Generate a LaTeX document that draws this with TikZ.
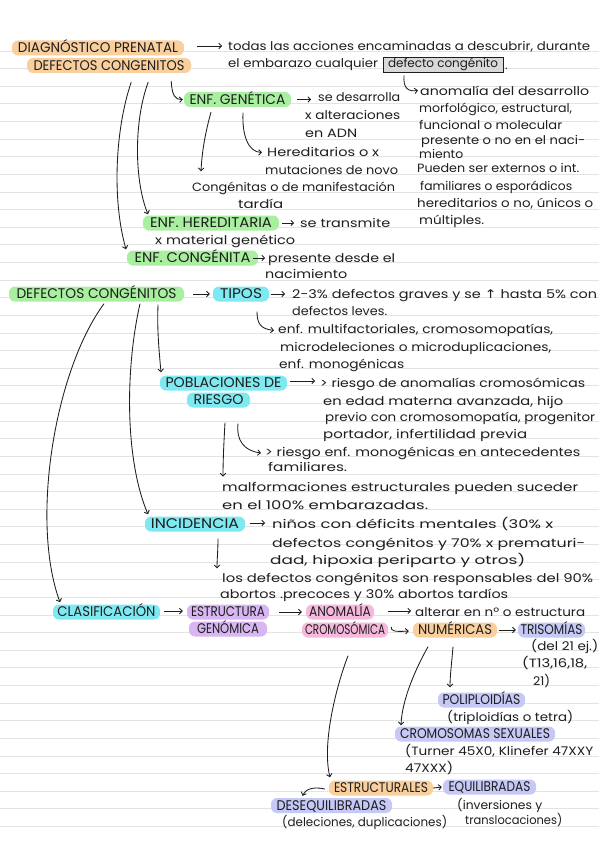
\documentclass[tikz,border=0pt]{standalone}
\usepackage{fontspec}
\usepackage{graphicx}
\usetikzlibrary{arrows.meta}
\newfontfamily\hand{Poppins}
\newfontfamily\symf{DejaVu Sans}
\definecolor{ink}{HTML}{1E1E1E}
\definecolor{rulec}{HTML}{E3E3E3}
\definecolor{orng}{HTML}{F9CF9E}
\definecolor{grn}{HTML}{A9EFA0}
\definecolor{cyn}{HTML}{7FE9F2}
\definecolor{purp}{HTML}{D8B6F2}
\definecolor{pnk}{HTML}{F6B8DC}
\definecolor{lav}{HTML}{C6C8F6}
\definecolor{boxg}{HTML}{D9D9D9}
\newcommand\fw[2]{\resizebox{#1pt}{\height}{#2}}
\newcommand\lowf{\hand\fontsize{12}{14}\selectfont}
\newcommand\capf{\hand\fontsize{14}{15}\selectfont}
\tikzset{
 rule/.style={draw=rulec, line width=0.9pt},
 tx/.style={anchor=base west, inner sep=0pt, text=ink, font=\lowf},
 hl/.style={rounded corners=6pt, inner sep=0pt, text=ink, font=\capf, minimum height=15pt, text height=9.8pt, text depth=0pt},
 ar/.style={draw=ink, line width=0.85pt, -{Straight Barb[length=2.8pt,width=5.5pt]}},
 cbox/.style={draw=ink, fill=boxg, line width=0.9pt, inner sep=0pt, minimum width=120pt, minimum height=15pt, text height=8.5pt, text depth=2.5pt, font=\lowf, text=ink},
}
\begin{document}
\begin{tikzpicture}[x=1pt,y=-1pt]
\useasboundingbox (0,0) rectangle (599,848);
\fill[white] (0,0) rectangle (599,848);
\foreach \k in {0,...,44} {\draw[rule] (0,{51+17.625*\k}) -- (599,{51+17.625*\k});}

% ---------- top block ----------
\node[hl, fill=orng, minimum width=172pt] (dp) at (98,48) {\fw{160}{DIAGNÓSTICO PRENATAL}};
\node[hl, fill=orng, minimum width=164pt] (dc) at (109,65.5) {\fw{151}{DEFECTOS CONGENITOS}};
\node[tx] (t1) at (228,50.5) {\fw{362}{todas las acciones encaminadas a descubrir, durante}};
\node[tx] (t2) at (228,68) {\fw{150}{el embarazo cualquier}};
\node[cbox] (box) at (443,64.5) {\fw{110}{defecto congénito}};
\node[tx] (t3) at (505,70) {.};

\node[tx] (r1) at (420,96) {\fw{169}{anomalía del desarrollo}};
\node[tx] (r2) at (419,112.5) {\fw{153}{morfológico, estructural,}};
\node[tx] (r3) at (419,129) {\fw{143}{funcional o molecular}};
\node[tx] (r4) at (421,145) {\fw{164}{presente o no en el naci-}};
\node[tx] (r5) at (419,158) {\fw{44}{miento}};
\node[tx] (r6) at (417,172.5) {\fw{162}{Pueden ser externos o int.}};
\node[tx] (r7) at (420,190) {\fw{152}{familiares o esporádicos}};
\node[tx] (r8) at (417,207) {\fw{176}{hereditarios o no, únicos o}};
\node[tx] (r9) at (419,224) {\fw{65}{múltiples.}};

\node[hl, fill=grn, minimum width=107pt] (eg) at (237.5,99.5) {\fw{96}{ENF. GENÉTICA}};
\node[tx] (g1) at (318,102) {\fw{82}{se desarrolla}};
\node[tx] (g2) at (305,119.5) {\fw{95}{x alteraciones}};
\node[tx] (g3) at (305,137) {\fw{52}{en ADN}};
\node[tx] (g4) at (267,157) {\fw{112}{Hereditarios o x}};
\node[tx] (g5) at (265,174) {\fw{133}{mutaciones de novo}};
\node[tx] (g6) at (192,191) {\fw{203}{Congénitas o de manifestación}};
\node[tx] (g7) at (238,208) {\fw{45}{tardía}};

\node[hl, fill=grn, minimum width=136pt] (eh) at (211,223) {\fw{122}{ENF. HEREDITARIA}};
\node[tx] (h1) at (300,227) {\fw{90}{se transmite}};
\node[tx] (h2) at (155,244) {\fw{140}{x material genético}};
\node[hl, fill=grn, minimum width=131pt] (ec) at (192.5,258) {\fw{116}{ENF. CONGÉNITA}};
\node[tx] (c1) at (268,262) {\fw{127}{presente desde el}};
\node[tx] (c2) at (265,278) {\fw{82}{nacimiento}};

% ---------- defectos congenitos ----------
\node[hl, fill=grn, minimum width=175pt] (dg) at (96.5,294) {\fw{160}{DEFECTOS CONGÉNITOS}};
\node[hl, fill=cyn, minimum width=56pt] (tp) at (241,294) {\fw{42}{TIPOS}};
\node[tx] (T1) at (292,298) {\fw{305}{2-3\% defectos graves y se {\symf ↑} hasta 5\% con}};
\node[tx] (T2) at (292,315) {\fw{95}{defectos leves.}};
\node[tx] (T3) at (278,333.5) {\fw{275}{enf. multifactoriales, cromosomopatías,}};
\node[tx] (T4) at (280,351) {\fw{271}{microdeleciones o microduplicaciones,}};
\node[tx] (T5) at (279,368) {\fw{125}{enf. monogénicas}};

\node[hl, fill=cyn, minimum width=127pt] (pb) at (223.5,383) {\fw{116}{POBLACIONES DE}};
\node[hl, fill=cyn, minimum width=63pt] (rs) at (218.5,400) {\fw{50}{RIESGO}};
\node[tx] (P1) at (320,387) {\fw{265}{> riesgo de anomalías cromosómicas}};
\node[tx] (P2) at (323,405) {\fw{240}{en edad materna avanzada, hijo}};
\node[tx] (P3) at (325,421) {\fw{270}{previo con cromosomopatía, progenitor}};
\node[tx] (P4) at (323,438) {\fw{204}{portador, infertilidad previa}};
\node[tx] (P5) at (265,456) {\fw{315}{> riesgo enf. monogénicas en antecedentes}};
\node[tx] (P6) at (268,471) {\fw{79}{familiares.}};
\node[tx] (P7) at (222,491) {\fw{356}{malformaciones estructurales pueden suceder}};
\node[tx] (P8) at (222,509) {\fw{206}{en el 100\% embarazadas.}};

\node[hl, fill=cyn, minimum width=100pt] (in) at (195,524) {\fw{88}{INCIDENCIA}};
\node[tx] (I1) at (272,528) {\fw{281}{niños con déficits mentales (30\% x}};
\node[tx] (I2) at (272,547) {\fw{313}{defectos congénitos y 70\% x prematuri-}};
\node[tx] (I3) at (270,564) {\fw{255}{dad, hipoxia periparto y otros)}};
\node[tx] (I4) at (222,582) {\fw{371}{los defectos congénitos son responsables del 90\%}};
\node[tx] (I5) at (220,598) {\fw{288}{abortos .precoces y 30\% abortos tardíos}};

% ---------- clasificacion ----------
\node[hl, fill=cyn, minimum width=107pt] (cl) at (106.5,612) {\fw{98}{CLASIFICACIÓN}};
\node[hl, fill=purp, minimum width=82pt] (es) at (228,612) {\fw{74}{ESTRUCTURA}};
\node[hl, fill=purp, minimum width=78pt] (ge) at (228,629) {\fw{62}{GENÓMICA}};
\node[hl, fill=pnk, minimum width=68pt] (an) at (340,612) {\fw{62}{ANOMALÍA}};
\node[hl, fill=pnk, minimum width=86pt] (cr) at (345,630) {\fw{80}{CROMOSÓMICA}};
\node[hl, fill=orng, minimum width=84pt] (nu) at (455,630) {\fw{74}{NUMÉRICAS}};
\node[hl, fill=lav, minimum width=67pt] (tr) at (551.5,630) {\fw{62}{TRISOMÍAS}};
\node[tx] (C1) at (415,616) {\fw{170}{alterar en nº o estructura}};
\node[tx] (C2) at (531,650) {\fw{67}{(del 21 ej.)}};
\node[tx] (C3) at (522,667) {\fw{65}{(T13,16,18,}};
\node[tx] (C4) at (533,685) {\fw{17}{21)}};
\node[hl, fill=lav, minimum width=87pt] (po) at (481.5,700) {\fw{78}{POLIPLOIDÍAS}};
\node[tx] (C5) at (447,721) {\fw{126}{(triploidías o tetra)}};
\node[hl, fill=lav, minimum width=160pt] (cs) at (475,734) {\fw{150}{CROMOSOMAS SEXUALES}};
\node[tx] (C6) at (405,755) {\fw{188}{(Turner 45X0, Klinefer 47XXY}};
\node[tx] (C7) at (405,772) {\fw{48}{47XXX)}};
\node[hl, fill=orng, minimum width=104pt] (et) at (381,788) {\fw{94}{ESTRUCTURALES}};
\node[hl, fill=lav, minimum width=93pt] (eq) at (489.5,787) {\fw{82}{EQUILIBRADAS}};
\node[hl, fill=lav, minimum width=121pt] (de) at (331.5,805.5) {\fw{110}{DESEQUILIBRADAS}};
\node[tx] (C9) at (457,809) {\fw{85}{(inversiones y}};
\node[tx] (C8) at (282,826) {\fw{165}{(deleciones, duplicaciones)}};
\node[tx] (C10) at (465,824) {\fw{97}{translocaciones)}};

% ---------- straight arrows ----------
\draw[ar] ([xshift=13pt,yshift=2pt]dp.east) -- ++(25,0);
\draw[ar] ([xshift=6pt]eg.east) -- ++(14,0);
\draw[ar] ([xshift=3pt]eh.east) -- ++(12,0);
\draw[ar] ([xshift=-5pt]ec.east) -- ++(12,0);
\draw[ar] ([xshift=9pt]dg.east) -- ([xshift=-3pt]tp.west);
\draw[ar] ([xshift=2pt]tp.east) -- ++(14,0);
\draw[ar] ([xshift=3pt,yshift=2pt]pb.east) -- ++(25,0);
\draw[ar] ([xshift=5pt,yshift=1pt]in.east) -- ++(15,0);
\draw[ar] ([xshift=4pt,yshift=1pt]cl.east) -- ([xshift=-4pt,yshift=1pt]es.west);
\draw[ar] ([xshift=10pt]es.east) -- ([xshift=-4pt]an.west);
\draw[ar] ([xshift=14pt,yshift=1pt]an.east) -- ++(23,0);
\draw[ar] ([xshift=2pt]nu.east) -- ([xshift=-2pt]tr.west);
\draw[ar] (et.east) -- ([xshift=-1pt]eq.west);

% ---------- curved arrows ----------
\draw[ar] ([xshift=-39pt,yshift=-3pt]box.south) .. controls (403,88) and (408,92) .. ([xshift=-2pt,yshift=1pt]r1.west);
\draw[ar] ([xshift=-20pt,yshift=-8pt]dc.south east) .. controls (172,95) and (175,100) .. ([xshift=-1pt]eg.west);
\draw[ar] ([xshift=-43pt,yshift=-9pt]dc.south east) .. controls (134,120) and (134,180) .. ([xshift=-63pt,yshift=1pt]eh.north);
\draw[ar] ([xshift=-60pt,yshift=-9pt]dc.south east) .. controls (115,130) and (112,200) .. ([xshift=-66.5pt,yshift=1pt]ec.north);
\draw[ar] ([xshift=-26.5pt,yshift=-5pt]eg.south) .. controls (206,130) and (202,150) .. ([xshift=9pt,yshift=10pt]g6.north west);
\draw[ar] ([xshift=5.5pt,yshift=-5.5pt]eg.south) .. controls (242,135) and (248,152) .. ([xshift=-5pt]g4.west);

\draw[ar] ([xshift=16pt,yshift=-10pt]tp.south) .. controls (257,324) and (261,329) .. ([xshift=-4pt]T3.west);
\draw[ar] ([xshift=61.5pt,yshift=-3pt]dg.south) .. controls (157,330) and (159,350) .. ([xshift=-62.5pt,yshift=3pt]pb.north);
\draw[ar] ([xshift=43.5pt,yshift=-2pt]dg.south) .. controls (125,370) and (125,460) .. ([xshift=-47pt,yshift=2pt]in.north);
\draw[ar] ([xshift=7.5pt,yshift=-2pt]dg.south) .. controls (55,370) and (30,520) .. ([xshift=-46.5pt,yshift=2pt]cl.north);

\draw[ar] ([xshift=6.5pt,yshift=-15pt]rs.south) .. controls (224,440) and (223,460) .. ([xshift=1pt,yshift=5pt]P7.north west);
\draw[ar] ([xshift=19.5pt,yshift=-16pt]rs.south) .. controls (236,440) and (244,451) .. ([xshift=-4pt]P5.west);
\draw[ar] ([xshift=23pt,yshift=-7pt]in.south) .. controls (218,550) and (217,560) .. ([xshift=-5pt,yshift=4pt]I4.north west);

\draw[ar] ([xshift=3pt,yshift=3pt]cr.east) .. controls (391,631) and (394,632) .. ([xshift=-4pt,yshift=-1pt]nu.west);
\draw[ar] ([xshift=3pt,yshift=-18pt]cr.south) .. controls (335,690) and (322,745) .. ([xshift=-51pt,yshift=3pt]et.north);
\draw[ar] ([xshift=-27pt,yshift=-9pt]nu.south) .. controls (415,670) and (402,700) .. ([xshift=-74pt,yshift=1pt]cs.north);
\draw[ar] ([xshift=-2pt,yshift=-9pt]nu.south) .. controls (452,660) and (450,675) .. ([xshift=-31.5pt,yshift=5pt]po.north);
\draw[ar] ([xshift=-4pt,yshift=-1pt]et.west) .. controls (312,786) and (305,790) .. ([xshift=-29pt,yshift=2pt]de.north);
\end{tikzpicture}
\end{document}
